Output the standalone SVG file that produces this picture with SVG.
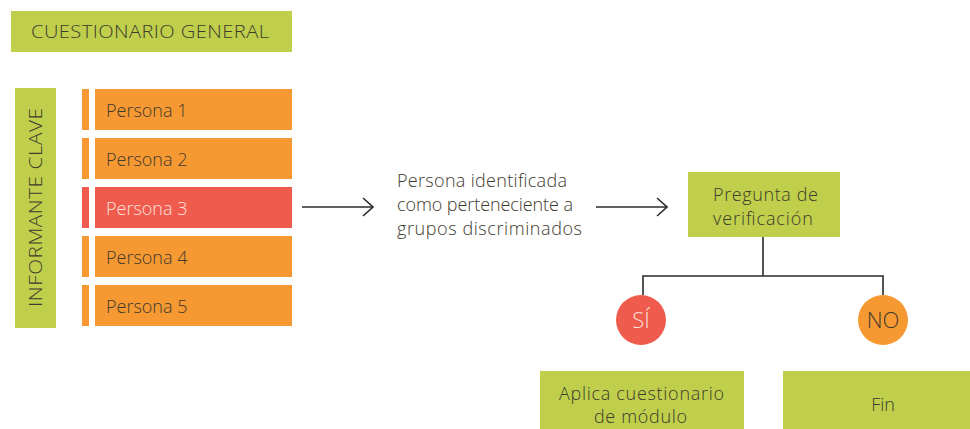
<svg xmlns="http://www.w3.org/2000/svg" width="970" height="429" viewBox="0 0 970 429">
<defs>
<style>
.g{fill:#bfcf4b}
.o{fill:#f79932}
.r{fill:#ef5b4d}
text{font-family:"Open Sans","Liberation Sans",sans-serif;font-weight:300;fill:#3d3a2e}
.t{font-size:18px}
.lt{fill:#fde1dc}
.ln{stroke:#2b2b2b;stroke-width:1.6;fill:none}
</style>
<marker id="ah" viewBox="0 0 12 20" markerWidth="12" markerHeight="20" refX="11" refY="10" orient="auto" markerUnits="userSpaceOnUse">
<path d="M1,1 L11,10 L1,19" fill="none" stroke="#2b2b2b" stroke-width="1.6"/>
</marker>
</defs>
<rect width="970" height="429" fill="#ffffff"/>
<g id="cuestionario-general">
<rect class="g" x="11" y="11" width="281" height="41"/>
<text class="t" transform="translate(31,38) scale(1.12,1)" textLength="212.5" lengthAdjust="spacing">CUESTIONARIO GENERAL</text>
</g>
<g id="informante-clave">
<rect class="g" x="15" y="88" width="41" height="240"/>
<text class="t" transform="translate(42,307) rotate(-90) scale(1.15,1)" textLength="173" lengthAdjust="spacing">INFORMANTE CLAVE</text>
</g>
<g id="persona1">
<rect class="o" x="82" y="89" width="7" height="41"/>
<rect class="o" x="95" y="89" width="197" height="41"/>
<text class="t" x="106" y="117">Persona 1</text>
</g>
<g id="persona2">
<rect class="o" x="82" y="138" width="7" height="41"/>
<rect class="o" x="95" y="138" width="197" height="41"/>
<text class="t" x="106" y="166">Persona 2</text>
</g>
<g id="persona3">
<rect class="r" x="82" y="187" width="7" height="41"/>
<rect class="r" x="95" y="187" width="197" height="41"/>
<text class="t lt" x="106" y="215">Persona 3</text>
</g>
<g id="persona4">
<rect class="o" x="82" y="236" width="7" height="41"/>
<rect class="o" x="95" y="236" width="197" height="41"/>
<text class="t" x="106" y="264">Persona 4</text>
</g>
<g id="persona5">
<rect class="o" x="82" y="285" width="7" height="41"/>
<rect class="o" x="95" y="285" width="197" height="41"/>
<text class="t" x="106" y="313">Persona 5</text>
</g>
<g id="persona-identificada">
<text class="t" x="397" y="187" textLength="170" lengthAdjust="spacing">Persona identificada</text>
<text class="t" x="397" y="211" textLength="176" lengthAdjust="spacing">como perteneciente a</text>
<text class="t" x="397" y="235" textLength="185" lengthAdjust="spacing">grupos discriminados</text>
</g>
<g id="pregunta">
<rect class="g" x="688" y="172" width="152" height="65"/>
<text class="t" x="713" y="201" textLength="105" lengthAdjust="spacing">Pregunta de</text>
<text class="t" x="713" y="225" textLength="100" lengthAdjust="spacing">verificación</text>
</g>
<g id="si">
<circle class="r" cx="641" cy="320" r="25"/>
<text x="641" y="328" font-size="22" text-anchor="middle" class="lt">SÍ</text>
</g>
<g id="no">
<circle class="o" cx="883" cy="320" r="25"/>
<text x="883" y="328" font-size="22" text-anchor="middle">NO</text>
</g>
<g id="aplica">
<rect class="g" x="540" y="371" width="204" height="58"/>
<text class="t" x="559" y="400" textLength="165" lengthAdjust="spacing">Aplica cuestionario</text>
<text class="t" x="594" y="423" textLength="93" lengthAdjust="spacing">de módulo</text>
</g>
<g id="fin">
<rect class="g" x="783" y="371" width="187" height="58"/>
<text class="t" x="883" y="411" text-anchor="middle">Fin</text>
</g>
<g id="connectors">
<line class="ln" x1="302" y1="207" x2="373" y2="207" marker-end="url(#ah)"/>
<line class="ln" x1="596" y1="207" x2="667" y2="207" marker-end="url(#ah)"/>
<path class="ln" d="M763,237 V276 M643,295 V276 H883 V295"/>
</g>
</svg>
